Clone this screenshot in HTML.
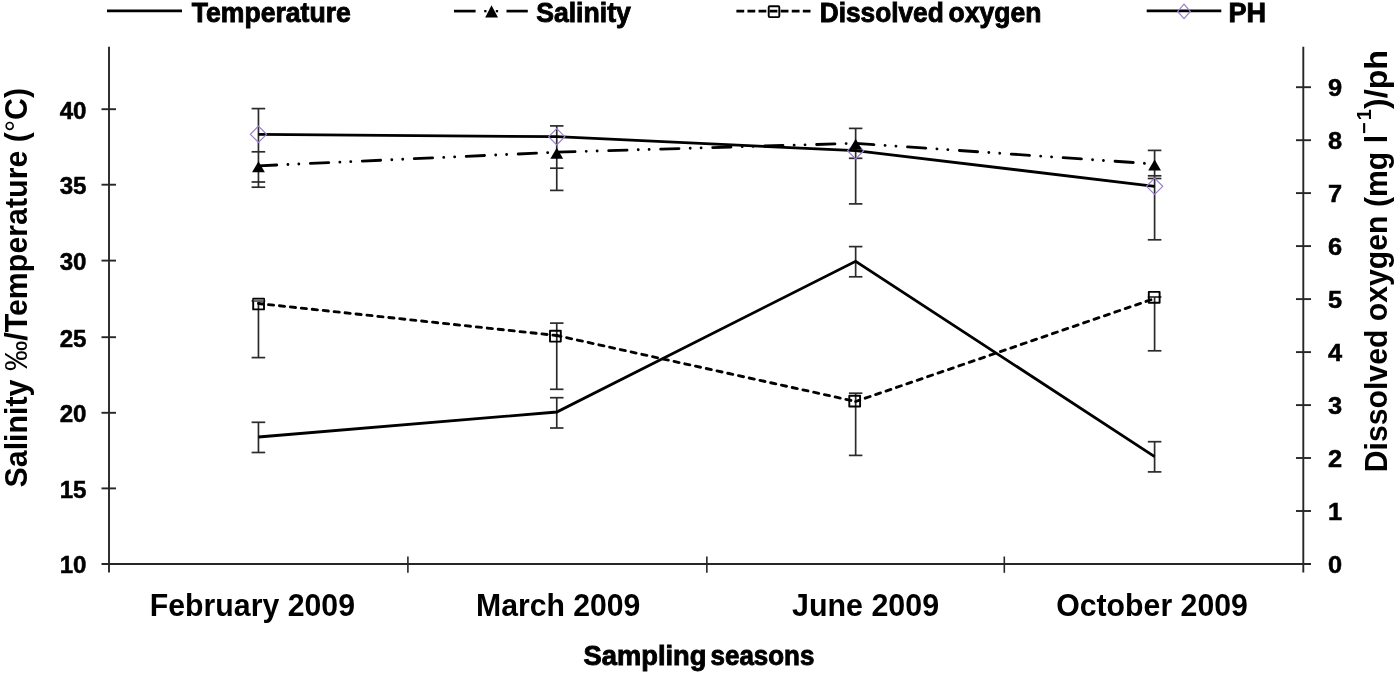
<!DOCTYPE html>
<html lang="en"><head><meta charset="utf-8"><title>Seasonal variation of temperature, salinity, dissolved oxygen and pH</title>
<style>
html,body{margin:0;padding:0;background:#fff;}
body{width:1400px;height:676px;overflow:hidden;}
svg{display:block;}
text{font-family:"Liberation Sans",Arial,Helvetica,sans-serif;font-weight:bold;fill:#000;}
.ax{stroke:#262626;stroke-width:1.9;fill:none;}
.eb{stroke:#2b2b2b;stroke-width:1.7;fill:none;}
.ser{stroke:#000;stroke-width:2.85;fill:none;stroke-linejoin:miter;}
.tk{font-size:23.5px;stroke:#000;stroke-width:0.5;letter-spacing:-0.3px;}
.cat{font-size:31.2px;}
.ttl{font-size:31.2px;}
.lg{font-size:27.3px;stroke:#000;stroke-width:0.9;}
.dm{stroke:#9a7fc8;stroke-width:1.2;fill:none;}
.sq{stroke:#000;stroke-width:1.9;fill:#fff;stroke-linejoin:round;}
</style></head><body>
<svg width="1400" height="676" viewBox="0 0 1400 676">
<rect x="0" y="0" width="1400" height="676" fill="#ffffff"/>

<g id="legend">
<line class="ser" x1="107" y1="10.9" x2="182" y2="10.9" style="stroke-width:2.9"/>
<text class="lg" x="191.8" y="21.6" textLength="159" lengthAdjust="spacingAndGlyphs">Temperature</text>
<line class="ser" x1="454" y1="11.1" x2="475.6" y2="11.1" style="stroke-width:2.7"/>
<line class="ser" x1="506.5" y1="11.1" x2="527.8" y2="11.1" style="stroke-width:2.7"/>
<rect x="484.2" y="10" width="2.3" height="2.3" fill="#000"/>
<rect x="495.8" y="10" width="2.3" height="2.3" fill="#000"/>
<path d="M491.5 5.3 L498 17.6 L485.2 17.6 Z" fill="#000"/>
<text class="lg" x="536.2" y="21.6" textLength="94.6" lengthAdjust="spacingAndGlyphs">Salinity</text>
<line class="ser" x1="736.4" y1="11.1" x2="810.5" y2="11.1" style="stroke-width:2.9;stroke-dasharray:7.8 3.27"/>
<rect class="sq" x="768.7" y="6.2" width="10.6" height="10.9" rx="1" style="stroke-width:1.9;fill:none"/>
<text class="lg" x="819.7" y="21.5" textLength="124" lengthAdjust="spacingAndGlyphs">Dissolved</text>
<text class="lg" x="948.6" y="21.5" textLength="92.8" lengthAdjust="spacingAndGlyphs">oxygen</text>
<line class="ser" x1="1146.7" y1="10.9" x2="1221.3" y2="10.9" style="stroke-width:2.9"/>
<path class="dm" d="M1184 4.2 L1190.3 11.4 L1184 18.6 L1177.7 11.4 Z"/>
<text class="lg" x="1228.5" y="22" textLength="37.6" lengthAdjust="spacingAndGlyphs">PH</text>
</g>
<g id="axes">
<line class="ax" x1="109.0" y1="46.8" x2="109.0" y2="572.5"/>
<line class="ax" x1="1303.3" y1="46.8" x2="1303.3" y2="572.5"/>
<line class="ax" x1="101.5" y1="564.0" x2="1311" y2="564.0"/>
<line class="ax" x1="101.5" y1="488.4" x2="116" y2="488.4"/>
<line class="ax" x1="101.5" y1="412.8" x2="116" y2="412.8"/>
<line class="ax" x1="101.5" y1="337.2" x2="116" y2="337.2"/>
<line class="ax" x1="101.5" y1="260.6" x2="116" y2="260.6"/>
<line class="ax" x1="101.5" y1="184.7" x2="116" y2="184.7"/>
<line class="ax" x1="101.5" y1="109.2" x2="116" y2="109.2"/>
<line class="ax" x1="1296" y1="511.0" x2="1311" y2="511.0"/>
<line class="ax" x1="1296" y1="458.0" x2="1311" y2="458.0"/>
<line class="ax" x1="1296" y1="405.1" x2="1311" y2="405.1"/>
<line class="ax" x1="1296" y1="352.1" x2="1311" y2="352.1"/>
<line class="ax" x1="1296" y1="299.1" x2="1311" y2="299.1"/>
<line class="ax" x1="1296" y1="246.1" x2="1311" y2="246.1"/>
<line class="ax" x1="1296" y1="193.1" x2="1311" y2="193.1"/>
<line class="ax" x1="1296" y1="140.2" x2="1311" y2="140.2"/>
<line class="ax" x1="1296" y1="87.2" x2="1311" y2="87.2"/>
<line class="ax" x1="407.9" y1="556.5" x2="407.9" y2="572.8" style="stroke-width:1.6"/>
<line class="ax" x1="706.85" y1="556.5" x2="706.85" y2="572.8" style="stroke-width:1.6"/>
<line class="ax" x1="1004.3" y1="556.5" x2="1004.3" y2="572.8" style="stroke-width:1.6"/>
</g>
<g id="ticklabels">
<text class="tk" x="59.8" y="573.4" style="font-size:23px" textLength="26.2" lengthAdjust="spacingAndGlyphs">10</text>
<text class="tk" x="59.8" y="497.8" style="font-size:23px" textLength="26.2" lengthAdjust="spacingAndGlyphs">15</text>
<text class="tk" x="59.8" y="422.2" style="font-size:23px" textLength="26.2" lengthAdjust="spacingAndGlyphs">20</text>
<text class="tk" x="59.8" y="346.6" style="font-size:23px" textLength="26.2" lengthAdjust="spacingAndGlyphs">25</text>
<text class="tk" x="59.8" y="270.0" style="font-size:23px" textLength="26.2" lengthAdjust="spacingAndGlyphs">30</text>
<text class="tk" x="59.8" y="194.1" style="font-size:23px" textLength="26.2" lengthAdjust="spacingAndGlyphs">35</text>
<text class="tk" x="59.8" y="118.6" style="font-size:23px" textLength="26.2" lengthAdjust="spacingAndGlyphs">40</text>
<text class="tk" x="1328" y="573.1" textLength="13.8" lengthAdjust="spacingAndGlyphs">0</text>
<text class="tk" x="1328" y="520.1" textLength="13.8" lengthAdjust="spacingAndGlyphs">1</text>
<text class="tk" x="1328" y="467.1" textLength="13.8" lengthAdjust="spacingAndGlyphs">2</text>
<text class="tk" x="1328" y="414.2" textLength="13.8" lengthAdjust="spacingAndGlyphs">3</text>
<text class="tk" x="1328" y="361.2" textLength="13.8" lengthAdjust="spacingAndGlyphs">4</text>
<text class="tk" x="1328" y="308.2" textLength="13.8" lengthAdjust="spacingAndGlyphs">5</text>
<text class="tk" x="1328" y="255.2" textLength="13.8" lengthAdjust="spacingAndGlyphs">6</text>
<text class="tk" x="1328" y="202.2" textLength="13.8" lengthAdjust="spacingAndGlyphs">7</text>
<text class="tk" x="1328" y="149.3" textLength="13.8" lengthAdjust="spacingAndGlyphs">8</text>
<text class="tk" x="1328" y="96.3" textLength="13.8" lengthAdjust="spacingAndGlyphs">9</text>
</g>
<g id="titles">
<text class="ttl" transform="translate(26.5 487.5) rotate(-90)" textLength="399.6" lengthAdjust="spacingAndGlyphs">Salinity <tspan font-weight="normal">‰</tspan>/Temperature (<tspan font-weight="normal">°</tspan>C)</text>
<text class="ttl" transform="translate(1387 472.3) rotate(-90)" textLength="337.4" lengthAdjust="spacingAndGlyphs">Dissolved oxygen (mg l</text>
<text class="ttl" style="font-size:20px" transform="translate(1370.6 134) rotate(-90)">−</text>
<text class="ttl" style="font-size:20px" transform="translate(1370.6 120.2) rotate(-90)">1</text>
<text class="ttl" transform="translate(1387 109) rotate(-90)" textLength="59" lengthAdjust="spacingAndGlyphs">)/ph</text>
<text class="lg" x="583.6" y="665" textLength="122.8" lengthAdjust="spacingAndGlyphs">Sampling</text>
<text class="lg" x="710.6" y="665" textLength="103.8" lengthAdjust="spacingAndGlyphs">seasons</text>
</g>
<g id="cats">
<text class="cat" x="149.8" y="615.5" textLength="205.2" lengthAdjust="spacingAndGlyphs">February 2009</text>
<text class="cat" x="476.0" y="615.5" textLength="164.4" lengthAdjust="spacingAndGlyphs">March 2009</text>
<text class="cat" x="792.0" y="615.5" textLength="147.1" lengthAdjust="spacingAndGlyphs">June 2009</text>
<text class="cat" x="1056.2" y="615.5" textLength="191.7" lengthAdjust="spacingAndGlyphs">October 2009</text>
</g>
<g id="errorbars">
<line class="eb" x1="258.45" y1="108.6" x2="258.45" y2="187.2"/>
<line class="eb" x1="251.6" y1="108.6" x2="265.2" y2="108.6"/>
<line class="eb" x1="251.6" y1="151.8" x2="265.2" y2="151.8"/>
<line class="eb" x1="251.6" y1="182" x2="265.2" y2="182"/>
<line class="eb" x1="251.6" y1="187.2" x2="265.2" y2="187.2"/>
<line class="eb" x1="258.45" y1="422.3" x2="258.45" y2="452.5"/>
<line class="eb" x1="251.6" y1="422.3" x2="265.2" y2="422.3"/>
<line class="eb" x1="251.6" y1="452.5" x2="265.2" y2="452.5"/>
<line class="eb" x1="258.45" y1="301" x2="258.45" y2="357.6"/>
<line class="eb" x1="251.6" y1="301" x2="265.2" y2="301"/>
<line class="eb" x1="251.6" y1="357.6" x2="265.2" y2="357.6"/>
<line class="eb" x1="556.75" y1="125.9" x2="556.75" y2="190.4"/>
<line class="eb" x1="550.0" y1="125.9" x2="563.5" y2="125.9"/>
<line class="eb" x1="550.0" y1="168.2" x2="563.5" y2="168.2"/>
<line class="eb" x1="550.0" y1="190.4" x2="563.5" y2="190.4"/>
<line class="eb" x1="556.75" y1="323.1" x2="556.75" y2="389.3"/>
<line class="eb" x1="550.0" y1="323.1" x2="563.5" y2="323.1"/>
<line class="eb" x1="550.0" y1="389.3" x2="563.5" y2="389.3"/>
<line class="eb" x1="556.75" y1="397.7" x2="556.75" y2="428"/>
<line class="eb" x1="550.0" y1="397.7" x2="563.5" y2="397.7"/>
<line class="eb" x1="550.0" y1="428" x2="563.5" y2="428"/>
<line class="eb" x1="855.65" y1="128.4" x2="855.65" y2="203.9"/>
<line class="eb" x1="848.9" y1="128.4" x2="862.4" y2="128.4"/>
<line class="eb" x1="848.9" y1="158.3" x2="862.4" y2="158.3"/>
<line class="eb" x1="848.9" y1="203.9" x2="862.4" y2="203.9"/>
<line class="eb" x1="855.65" y1="246.6" x2="855.65" y2="276.8"/>
<line class="eb" x1="848.9" y1="246.6" x2="862.4" y2="246.6"/>
<line class="eb" x1="848.9" y1="276.8" x2="862.4" y2="276.8"/>
<line class="eb" x1="855.65" y1="393.2" x2="855.65" y2="455.4"/>
<line class="eb" x1="848.9" y1="393.2" x2="862.4" y2="393.2"/>
<line class="eb" x1="848.9" y1="455.4" x2="862.4" y2="455.4"/>
<line class="eb" x1="1154.6" y1="150.4" x2="1154.6" y2="239.8"/>
<line class="eb" x1="1147.8" y1="150.4" x2="1161.4" y2="150.4"/>
<line class="eb" x1="1147.8" y1="175.8" x2="1161.4" y2="175.8"/>
<line class="eb" x1="1147.8" y1="178.5" x2="1161.4" y2="178.5"/>
<line class="eb" x1="1147.8" y1="239.8" x2="1161.4" y2="239.8"/>
<line class="eb" x1="1154.6" y1="297" x2="1154.6" y2="350.8"/>
<line class="eb" x1="1147.8" y1="297" x2="1161.4" y2="297"/>
<line class="eb" x1="1147.8" y1="350.8" x2="1161.4" y2="350.8"/>
<line class="eb" x1="1154.6" y1="441.7" x2="1154.6" y2="471.9"/>
<line class="eb" x1="1147.8" y1="441.7" x2="1161.4" y2="441.7"/>
<line class="eb" x1="1147.8" y1="471.9" x2="1161.4" y2="471.9"/>
</g>
<g id="series">
<polyline class="ser" points="258.45,437 556.75,412 855.65,261.3 1154.6,456.6"/>
<polyline class="ser" points="258.45,134.3 556.75,136.7 855.65,150.7 1154.6,186.3"/>
<line class="ser" x1="258.45" y1="165.8" x2="556.75" y2="152.2" style="stroke-linecap:round;stroke-dasharray:18.3 11.2 0.01 10.9 0.01 11.58;stroke-dashoffset:0"/>
<line class="ser" x1="556.75" y1="152.2" x2="855.65" y2="143.3" style="stroke-linecap:round;stroke-dasharray:18.3 11.2 0.01 10.9 0.01 11.58;stroke-dashoffset:0"/>
<line class="ser" x1="855.65" y1="143.3" x2="1154.6" y2="164" style="stroke-linecap:round;stroke-dasharray:18.3 11.2 0.01 10.9 0.01 11.58;stroke-dashoffset:0"/>
<line class="ser" x1="258.45" y1="303.5" x2="556.75" y2="335.5" style="stroke-linecap:round;stroke-dasharray:5.2 5.8;stroke-dashoffset:0.9"/>
<line class="ser" x1="556.75" y1="335.5" x2="855.65" y2="401.5" style="stroke-linecap:round;stroke-dasharray:5.2 5.8;stroke-dashoffset:0.9"/>
<line class="ser" x1="855.65" y1="401.5" x2="1154.6" y2="298.5" style="stroke-linecap:round;stroke-dasharray:5.2 5.8;stroke-dashoffset:0.9"/>
</g>
<g id="markers">
<path class="dm" d="M258.45 126.20000000000002 L266.55 134.3 L258.45 142.4 L250.35 134.3 Z"/>
<path class="dm" d="M556.75 128.6 L564.85 136.7 L556.75 144.79999999999998 L548.65 136.7 Z"/>
<path class="dm" d="M855.65 142.6 L863.75 150.7 L855.65 158.79999999999998 L847.55 150.7 Z"/>
<path class="dm" d="M1154.6 178.20000000000002 L1162.6999999999998 186.3 L1154.6 194.4 L1146.5 186.3 Z"/>
<path d="M258.45 161.3 L264.84999999999997 172.3 L252.04999999999998 172.3 Z" fill="#000"/>
<path d="M556.75 147.7 L563.15 158.7 L550.35 158.7 Z" fill="#000"/>
<path d="M855.65 138.8 L862.05 149.8 L849.25 149.8 Z" fill="#000"/>
<path d="M1154.6 159.5 L1161.0 170.5 L1148.1999999999998 170.5 Z" fill="#000"/>
<rect class="sq" x="253.2" y="298.6" width="10.8" height="10.8" style="fill:none"/>
<rect class="sq" x="550.0" y="330.8" width="10.8" height="10.8" style="fill:none"/>
<rect class="sq" x="849.3" y="395.7" width="10.8" height="10.8" style="fill:none"/>
<rect class="sq" x="1148.8" y="291.9" width="10.8" height="10.8" style="fill:none"/>
<rect x="253.6" y="299.2" width="10" height="2.6" fill="#6e6e6e"/>
</g>
</svg>
</body></html>
